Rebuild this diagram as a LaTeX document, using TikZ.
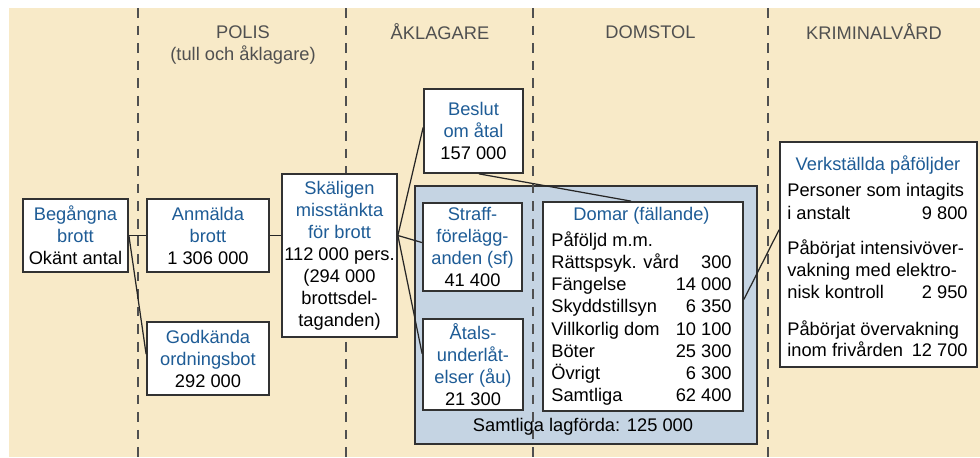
\documentclass[tikz,border=0pt]{standalone}
\usepackage{fontspec}
\setmainfont{Liberation Sans}
\usepackage{xcolor}
\usepackage{tikz}
\definecolor{Beige}{RGB}{248,234,200}
\definecolor{PaleBlue}{RGB}{197,212,227}
\definecolor{TitleBlue}{RGB}{30,92,150}
\definecolor{HeadGray}{RGB}{80,80,80}
\definecolor{EdgeGray}{RGB}{50,50,50}
\newcommand{\blu}[1]{\textcolor{TitleBlue}{#1}}
\tikzset{
  wbox/.style={draw=EdgeGray, line width=1pt, fill=white, align=center, inner sep=1pt},
  lagbox/.style={draw=EdgeGray, line width=1pt, fill=PaleBlue, inner sep=0pt},
  lane/.style={HeadGray, line width=0.8pt, dash pattern=on 5.5pt off 4.5pt},
  lanehead/.style={text=HeadGray, align=center, inner sep=1pt},
  link/.style={line width=0.7pt, black!85},
  rowtxt/.style={inner sep=0pt},
  boxtitle/.style={text=TitleBlue, inner sep=0pt},
}

\begin{document}
\begin{tikzpicture}[font=\fontsize{10.4}{12.5}\selectfont]
    \useasboundingbox (0,0) rectangle (19.6,9.14);
    \fill[Beige] (0.18,0) rectangle (19.6,8.98);
    % blue area behind the lanes
    \node[lagbox, minimum width=6.84cm, minimum height=5.16cm] (lagf) at (11.72,2.84) {};
    \foreach \x in {2.76,6.92,10.66,15.36}
      \draw[lane] (\x,8.98) -- (\x,0);
    \foreach \t/\x [count=\i] in {POLIS/4.86, ÅKLAGARE/8.8, DOMSTOL/13.01, KRIMINALVÅRD/17.48}
      \node[lanehead] (head\i) at (\x,8.5) {\t};
    \node[lanehead] (polsub) at (4.86,8.04) {(tull och åklagare)};
    % boxes
    \node[wbox, minimum width=2.10cm, minimum height=1.46cm] (beg) at (1.51,4.43)
      {\blu{Begångna}\\\blu{brott}\\Okänt antal};
    \node[wbox, minimum width=2.44cm, minimum height=1.46cm] (anm) at (4.16,4.43)
      {\blu{Anmälda}\\\blu{brott}\\1 306 000};
    \node[wbox, minimum width=2.44cm, minimum height=1.46cm] (godk) at (4.16,1.97)
      {\blu{Godkända}\\\blu{ordningsbot}\\292 000};
    \node[wbox, minimum width=2.30cm, minimum height=3.26cm] (skal) at (6.79,4.03)
      {\blu{Skäligen}\\\blu{misstänkta}\\\blu{för brott}\\112 000 pers.\\(294 000\\brottsdel-\\taganden)};
    \node[wbox, minimum width=1.98cm, minimum height=1.68cm] (beslut) at (9.47,6.52)
      {\blu{Beslut}\\\blu{om åtal}\\157 000};
    \node[wbox, minimum width=1.98cm, minimum height=1.76cm] (straff) at (9.45,4.20)
      {\blu{Straff-}\\\blu{förelägg-}\\\blu{anden (sf)}\\41 400};
    \node[wbox, minimum width=2.00cm, minimum height=1.82cm] (atal) at (9.46,1.85)
      {\blu{Åtals-}\\\blu{underlåt-}\\\blu{elser (åu)}\\21 300};
    \node[wbox, minimum width=4.00cm, minimum height=4.18cm] (domar) at (12.86,3.01) {};
    \node[wbox, minimum width=3.94cm, minimum height=4.50cm] (verk) at (17.57,4.05) {};
    % Domar table
    \node[boxtitle, anchor=base] (domtitle) at (12.83,4.74) {Domar (fällande)};
    \node[rowtxt, anchor=base west] (dhead) at (11.02,4.22) {Påföljd m.m.};
    \foreach \t/\v [count=\i] in {Rättspsyk. vård/300, Fängelse/14 000, Skyddstillsyn/6 350,
        Villkorlig dom/10 100, Böter/25 300, Övrigt/6 300, Samtliga/62 400} {
      \node[rowtxt, anchor=base west] (dt\i) at (11.02,4.22-0.445*\i) {\t};
      \node[rowtxt, anchor=base east] (dv\i) at (14.64,4.22-0.445*\i) {\v};
    }
    \node[rowtxt, anchor=base] (lagtxt) at (11.66,0.51) {Samtliga lagförda: 125 000};
    % Verkställda
    \node[boxtitle, anchor=base] (verktitle) at (17.56,5.74) {Verkställda påföljder};
    \foreach \t/\y [count=\i] in {Personer som intagits/5.21, i anstalt/4.76,
        Påbörjat intensivöver-/4.06, vakning med elektro-/3.61, nisk kontroll/3.18,
        Påbörjat övervakning/2.44, inom frivården/2.01}
      \node[rowtxt, anchor=base west] (vt\i) at (15.74,\y) {\t};
    \foreach \v/\y [count=\i] in {9 800/4.76, 2 950/3.18, 12 700/2.01}
      \node[rowtxt, anchor=base east] (vv\i) at (19.36,\y) {\v};
    % connectors
    \coordinate (fan) at (skal.east |- anm.east);
    \draw[link] (beg.east) -- (anm.west);
    \draw[link] (beg.east) -- (godk.176);
    \draw[link] (anm.east) -- (skal.west |- anm.east);
    \draw[link] (fan) -- (beslut.176);
    \draw[link] (fan) -- (straff.175);
    \draw[link] (fan) -- (atal.168);
    \draw[link] ([xshift=0.11cm]beslut.south) -- ([xshift=-0.24cm]domar.north);
    \draw[link] (domar.4) -- (verk.166);
\end{tikzpicture}
\end{document}
